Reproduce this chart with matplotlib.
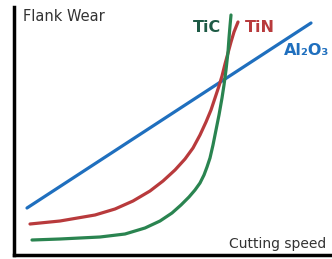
import matplotlib
matplotlib.use("Agg")
import matplotlib.pyplot as plt

# curves (arbitrary units, origin at the axes corner)
tin_x = [16, 46, 81, 101, 119, 136, 149, 161, 171, 179, 186, 192, 197, 201, 205, 208, 211, 214, 217, 220, 224]
tin_y = [31, 34, 40, 46, 54, 64, 74, 85, 96, 107, 120, 133, 145, 157, 169, 179, 191, 202, 213, 223, 233]

tic_x = [18, 46, 86, 111, 131, 146, 158, 167, 175, 181, 186, 190, 193, 196, 199, 202, 205, 208, 210, 212, 214, 215, 216, 217]
tic_y = [15, 16, 18, 21, 27, 34, 42, 50, 58, 65, 72, 80, 88, 97, 110, 125, 140, 157, 170, 185, 203, 217, 229, 240]

al2o3_x = [13, 297]
al2o3_y = [47, 232]

labels = ["TiC", "TiN", "Al₂O₃"]
colors = ["#2a8450", "#b83a3c", "#1f6fbe"]
label_colors = ["#1d5a45", "#b83a3c", "#1f6fbe"]

fig = plt.figure(figsize=(3.32, 2.59), dpi=100)
ax = fig.add_axes([14 / 332, 4 / 259, 318 / 332, 248 / 259])
ax.set_xlim(0, 318)
ax.set_ylim(0, 248)

lw = 2.3
ax.plot(al2o3_x, al2o3_y, color=colors[2], lw=lw, solid_capstyle="round")
ax.plot(tin_x, tin_y, color=colors[1], lw=lw, solid_capstyle="round", solid_joinstyle="round")
ax.plot(tic_x, tic_y, color=colors[0], lw=lw, solid_capstyle="round", solid_joinstyle="round")

ax.text(179, 228, labels[0], color=label_colors[0], fontsize=11.5, fontweight="bold", va="center")
ax.text(231, 228, labels[1], color=label_colors[1], fontsize=11.5, fontweight="bold", va="center")
ax.text(270, 205, labels[2], color=label_colors[2], fontsize=11.5, fontweight="bold", va="center")

ax.text(9, 246, "Flank Wear", color="#333333", fontsize=10.5, va="top")
ax.text(312, 4, "Cutting speed", color="#333333", fontsize=10, ha="right", va="bottom")

for s in ["top", "right"]:
    ax.spines[s].set_visible(False)
for s in ["left", "bottom"]:
    ax.spines[s].set_linewidth(2.5)
ax.set_xticks([])
ax.set_yticks([])

fig.savefig("out.png", dpi=100)
